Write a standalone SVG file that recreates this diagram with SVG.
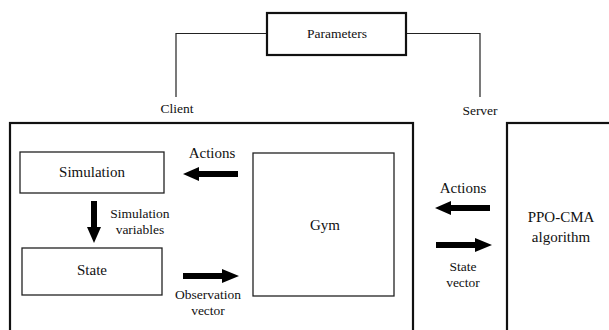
<svg xmlns="http://www.w3.org/2000/svg" width="609" height="330" viewBox="0 0 609 330" font-family="Liberation Serif, Times New Roman, serif">
<style>
text{fill:#111;text-anchor:middle;font-family:"Liberation Serif","Times New Roman",serif}
.lbl{font-size:15px}
.two{font-size:13.5px}
.sm{font-size:13.5px}
.thick{fill:none;stroke:#111;stroke-width:2.2}
.thin{fill:none;stroke:#222;stroke-width:1.3}
.ln{fill:none;stroke:#222;stroke-width:1.2}
.arr{fill:#000}
</style>
<rect width="609" height="330" fill="#fff"/>
<g id="connectors">
<polyline class="ln" points="267,33.5 176,33.5 176,97"/>
<polyline class="ln" points="406,33.5 480,33.5 480,97"/>
<polygon class="arr" points="238,171 199,171 199,167 183,174 199,181 199,177 238,177"/>
<polygon class="arr" points="91,201 97,201 97,227 101,227 94,243 87,227 91,227"/>
<polygon class="arr" points="183,273 222,273 222,269 239,276 222,283 222,279 183,279"/>
<polygon class="arr" points="490,205 451,205 451,201 435,208 451,215 451,211 490,211"/>
<polygon class="arr" points="436,242 475,242 475,238 492,245 475,252 475,248 436,248"/>
<text class="lbl" x="212" y="158">Actions</text>
<text class="two" x="140" y="218">Simulation</text>
<text class="two" x="140" y="234">variables</text>
<text class="two" x="208" y="299">Observation</text>
<text class="two" x="208" y="315">vector</text>
<text class="lbl" x="463" y="193">Actions</text>
<text class="two" x="463" y="271">State</text>
<text class="two" x="463" y="287">vector</text>
</g>
<g id="parameters">
<rect class="thick" x="267" y="13" width="139" height="42"/>
<text class="sm" x="337" y="38">Parameters</text>
</g>
<g id="client">
<rect class="thick" x="10" y="123" width="403" height="230"/>
<text class="sm" x="177" y="113">Client</text>
</g>
<g id="server">
<rect class="thick" x="507" y="123" width="120" height="230"/>
<text class="sm" x="480" y="115">Server</text>
<text class="lbl" x="561" y="222">PPO-CMA</text>
<text class="lbl" x="561" y="242">algorithm</text>
</g>
<g id="simulation">
<rect class="thin" x="20" y="152" width="144" height="41"/>
<text class="lbl" x="92" y="177">Simulation</text>
</g>
<g id="state">
<rect class="thin" x="22" y="248" width="140" height="47"/>
<text class="lbl" x="92" y="275">State</text>
</g>
<g id="gym">
<rect class="thin" x="253" y="153" width="141" height="143"/>
<text class="lbl" x="325" y="230">Gym</text>
</g>
</svg>
